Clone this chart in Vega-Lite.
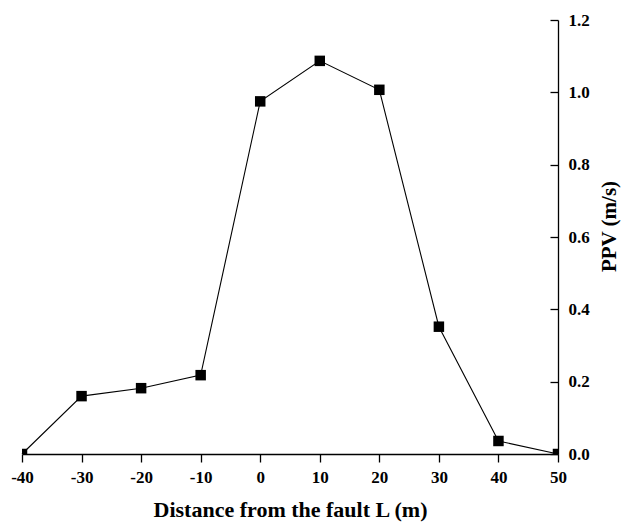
{
  "$schema": "https://vega.github.io/schema/vega-lite/v6.json",
  "width": 536,
  "height": 434,
  "autosize": {"type": "none"},
  "padding": {"left": 22, "top": 20, "right": 65, "bottom": 68},
  "background": "white",
  "config": {
    "view": {"stroke": null},
    "font": "Liberation Serif",
    "axis": {"grid": false, "domainColor": "black", "tickColor": "black", "labelColor": "black", "titleColor": "black", "labelFont": "Liberation Serif", "titleFont": "Liberation Serif", "labelFontWeight": "bold", "titleFontWeight": "bold", "domainWidth": 1.3, "tickWidth": 1.3}
  },
  "data": {
    "values": [
      {"L": -40, "PPV": 0.0},
      {"L": -30, "PPV": 0.16},
      {"L": -20, "PPV": 0.182},
      {"L": -10, "PPV": 0.218},
      {"L": 0, "PPV": 0.975},
      {"L": 10, "PPV": 1.087},
      {"L": 20, "PPV": 1.007},
      {"L": 30, "PPV": 0.352},
      {"L": 40, "PPV": 0.036},
      {"L": 50, "PPV": 0.0}
    ]
  },
  "encoding": {
    "x": {"field": "L", "type": "quantitative", "scale": {"domain": [-40, 50], "nice": false, "zero": false},
      "axis": {"title": "Distance from the fault L (m)", "titleFontSize": 22, "labelFontSize": 17, "values": [-40, -30, -20, -10, 0, 10, 20, 30, 40, 50], "labelExpr": "'' + datum.value", "tickSize": 8, "labelPadding": 7, "titlePadding": 14, "labelFlush": false}},
    "y": {"field": "PPV", "type": "quantitative", "scale": {"domain": [0, 1.2], "nice": false},
      "axis": {"orient": "right", "title": "PPV (m/s)", "titleFontSize": 21, "labelFontSize": 17, "titleAngle": 270, "titleBaseline": "top", "titleY": 206, "values": [0, 0.2, 0.4, 0.6, 0.8, 1.0, 1.2], "format": ".1f", "tickSize": -8, "labelPadding": 18, "titlePadding": 9, "labelFlush": false}}
  },
  "layer": [
    {"mark": {"type": "line", "color": "black", "strokeWidth": 1.1}},
    {"mark": {"type": "point", "shape": "square", "filled": true, "color": "black", "opacity": 1, "size": 110, "clip": true}}
  ]
}
